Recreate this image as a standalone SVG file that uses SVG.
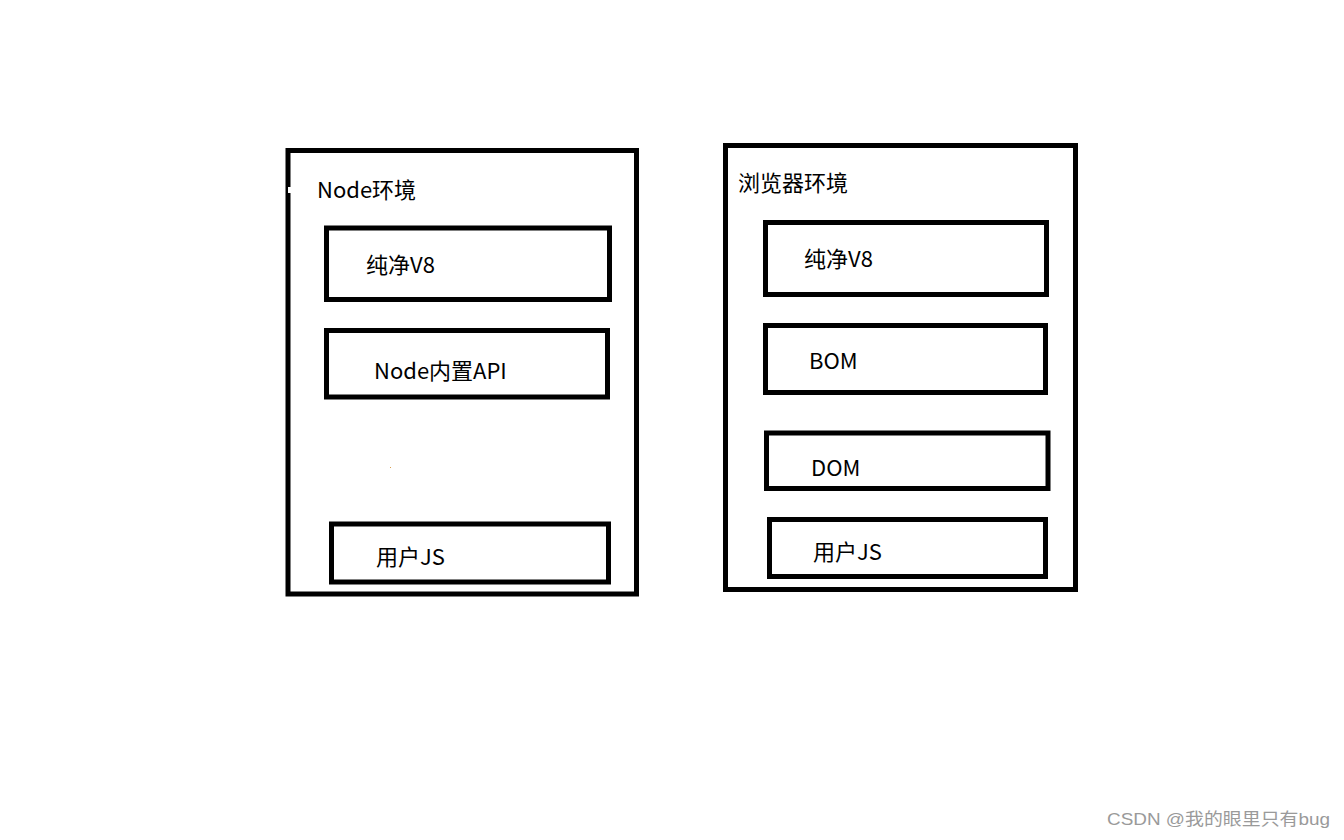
<svg xmlns="http://www.w3.org/2000/svg" width="1344" height="840" viewBox="0 0 1344 840">
  <style>
    .box { fill: none; stroke: #000; stroke-width: 5; }
    .lbl { font-family: "Noto Sans CJK SC", "Noto Sans", sans-serif; font-size: 22px; fill: #000; }
    .wm { font-family: "Liberation Sans", "Noto Sans CJK SC", sans-serif; font-size: 17px; fill: #9a9a9a; }
  </style>
  <rect x="0" y="0" width="1344" height="840" fill="#fff"/>

  <g id="node-env">
    <rect class="box" x="288" y="150.5" width="348.5" height="443.5"/>
    <rect x="288" y="187" width="3.5" height="6" fill="#fff"/>
    <text class="lbl" x="317" y="198">Node环境</text>
  </g>
  <g id="node-v8">
    <rect class="box" x="326.5" y="228" width="283" height="71.5"/>
    <text class="lbl" x="366" y="273">纯净V8</text>
  </g>
  <g id="node-api">
    <rect class="box" x="326.5" y="330.5" width="281" height="66.5"/>
    <text class="lbl" x="374" y="379">Node内置API</text>
  </g>
  <rect x="390" y="467" width="1" height="1" fill="#d9a050"/>
  <g id="node-userjs">
    <rect class="box" x="331.5" y="524" width="277" height="58"/>
    <text class="lbl" x="376" y="565">用户JS</text>
  </g>

  <g id="browser-env">
    <rect class="box" x="725.5" y="145.5" width="350" height="444"/>
    <text class="lbl" x="738" y="191">浏览器环境</text>
  </g>
  <g id="browser-v8">
    <rect class="box" x="765.5" y="222.5" width="281" height="72"/>
    <text class="lbl" x="804" y="267">纯净V8</text>
  </g>
  <g id="browser-bom">
    <rect class="box" x="765.5" y="325.5" width="280" height="67"/>
    <text class="lbl" x="809" y="369">BOM</text>
  </g>
  <g id="browser-dom">
    <rect class="box" x="766.5" y="433" width="281.5" height="55.5"/>
    <text class="lbl" x="811" y="476">DOM</text>
  </g>
  <g id="browser-userjs">
    <rect class="box" x="769.5" y="519.5" width="276" height="57"/>
    <text class="lbl" x="813" y="560">用户JS</text>
  </g>

  <g id="connectors"></g>

  <text class="wm" x="1107" y="825" textLength="223" lengthAdjust="spacingAndGlyphs">CSDN @我的眼里只有bug</text>
</svg>
